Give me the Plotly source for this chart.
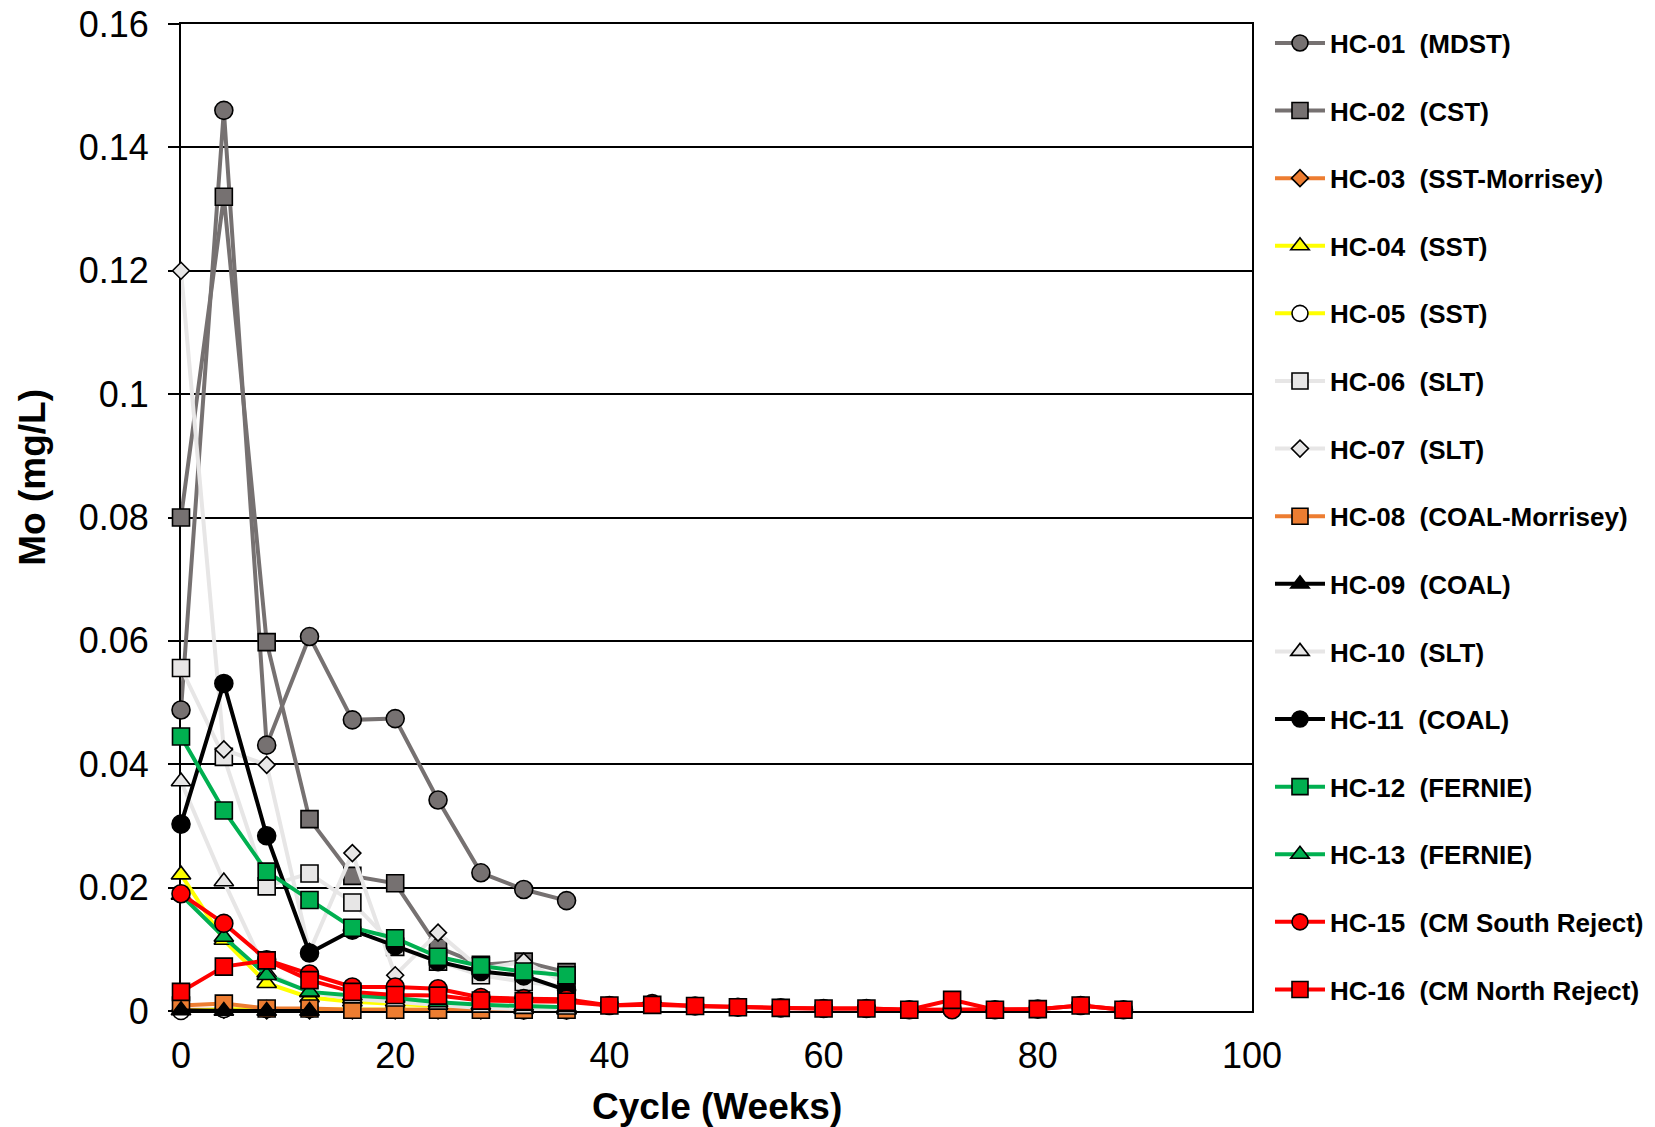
import plotly.graph_objects as go

# ---------------- data ----------------
weeks = [0, 4, 8, 12, 16, 20, 24, 28, 32, 36]
weeks_hc09 = [0, 4, 8, 12]
weeks_long = [0, 4, 8, 12, 16, 20, 24, 28, 32, 36, 40, 44, 48, 52, 56, 60, 64, 68, 72, 76, 80, 84, 88]

hc01 = [0.0488, 0.1460, 0.0431, 0.0607, 0.0472, 0.0474, 0.0342, 0.0224, 0.0197, 0.0179]
hc02 = [0.0800, 0.1320, 0.0598, 0.0311, 0.0219, 0.0207, 0.0103, 0.0075, 0.0080, 0.0063]
hc03 = [0.0002, 0.0002, 0.0001, 0.0001, 0.0001, 0.0001, 0.0001, 0.0001, 0.0001, 0.0001]
hc04 = [0.0221, 0.0115, 0.0045, 0.0022, 0.0015, 0.0011, 0.0008, 0.0006, 0.0004, 0.0003]
hc05 = [0.0000, 0.0003, 0.0003, 0.0003, 0.0002, 0.0002, 0.0002, 0.0002, 0.0001, 0.0001]
hc06 = [0.0556, 0.0412, 0.0202, 0.0223, 0.0176, 0.0104, 0.0080, 0.0058, 0.0047, 0.0040]
hc07 = [0.1200, 0.0424, 0.0399, 0.0096, 0.0256, 0.0058, 0.0127, 0.0068, 0.0080, 0.0045]
hc08 = [0.0009, 0.0012, 0.0004, 0.0004, 0.0002, 0.0002, 0.0002, 0.0002, 0.0002, 0.0002]
hc09 = [0.0001, 0.0000, 0.0000, 0.0000]
hc10 = [0.0372, 0.0210, 0.0062, 0.0030, 0.0020, 0.0015, 0.0010, 0.0005, 0.0003, 0.0002]
hc11 = [0.0303, 0.0531, 0.0284, 0.0094, 0.0131, 0.0106, 0.0080, 0.0064, 0.0057, 0.0034]
hc12 = [0.0445, 0.0325, 0.0226, 0.0180, 0.0135, 0.0118, 0.0088, 0.0073, 0.0064, 0.0058]
hc13 = [0.0188, 0.0120, 0.0058, 0.0031, 0.0025, 0.0021, 0.0014, 0.0010, 0.0008, 0.0006]
hc15 = [0.0190, 0.0142, 0.0083, 0.0060, 0.0039, 0.0039, 0.0036, 0.0022, 0.0020, 0.0019,
        0.0009, 0.0012, 0.0008, 0.0006, 0.0005, 0.0004, 0.0004, 0.0002, 0.0002, 0.0002, 0.0003, 0.0009, 0.0002]
hc16 = [0.0031, 0.0072, 0.0082, 0.0050, 0.0031, 0.0026, 0.0025, 0.0017, 0.0016, 0.0015,
        0.0009, 0.0010, 0.0008, 0.0006, 0.0005, 0.0004, 0.0004, 0.0002, 0.0018, 0.0002, 0.0003, 0.0009, 0.0002]

names = ["HC-01\u00a0\u00a0(MDST)", "HC-02\u00a0\u00a0(CST)", "HC-03\u00a0\u00a0(SST-Morrisey)",
         "HC-04\u00a0\u00a0(SST)", "HC-05\u00a0\u00a0(SST)", "HC-06\u00a0\u00a0(SLT)", "HC-07\u00a0\u00a0(SLT)",
         "HC-08\u00a0\u00a0(COAL-Morrisey)", "HC-09\u00a0\u00a0(COAL)", "HC-10\u00a0\u00a0(SLT)",
         "HC-11\u00a0\u00a0(COAL)", "HC-12\u00a0\u00a0(FERNIE)", "HC-13\u00a0\u00a0(FERNIE)",
         "HC-15\u00a0\u00a0(CM South Reject)", "HC-16\u00a0\u00a0(CM North Reject)"]

y_tick_vals = [0, 0.02, 0.04, 0.06, 0.08, 0.1, 0.12, 0.14, 0.16]
y_tick_text = ["0", "0.02", "0.04", "0.06", "0.08", "0.1", "0.12", "0.14", "0.16"]
x_tick_vals = [0, 20, 40, 60, 80, 100]
x_tick_text = ["0", "20", "40", "60", "80", "100"]

# ---------------- styles ----------------
GREY = "#767171"
LIGHT = "#E7E6E6"
ORANGE = "#ED7D31"
YELLOW = "#FFFF00"
GREEN = "#00B050"
RED = "#FF0000"
BLACK = "#000000"

styles = [
    (weeks, hc01, GREY, "circle", GREY, 18),
    (weeks, hc02, GREY, "square", GREY, 17),
    (weeks, hc03, ORANGE, "diamond", ORANGE, 13),
    (weeks, hc04, YELLOW, "triangle-up", YELLOW, 17),
    (weeks, hc05, YELLOW, "circle", "#FFFFFF", 17),
    (weeks, hc06, LIGHT, "square", LIGHT, 17),
    (weeks, hc07, LIGHT, "diamond", LIGHT, 13),
    (weeks, hc08, ORANGE, "square", ORANGE, 17),
    (weeks_hc09, hc09, BLACK, "triangle-up", BLACK, 17),
    (weeks, hc10, LIGHT, "triangle-up", LIGHT, 17),
    (weeks, hc11, BLACK, "circle", BLACK, 18),
    (weeks, hc12, GREEN, "square", GREEN, 17),
    (weeks, hc13, GREEN, "triangle-up", GREEN, 17),
    (weeks_long, hc15, RED, "circle", RED, 18),
    (weeks_long, hc16, RED, "square", RED, 17),
]

FONT = "Arial, 'Liberation Sans', sans-serif"
N_FIRST = 7  # entries in the first legend block

fig = go.Figure()
for i, (name, (xs, ys, lc, sym, fc, sz)) in enumerate(zip(names, styles)):
    fig.add_trace(go.Scatter(
        x=xs, y=ys, name=name, mode="lines+markers",
        legendgroup="g%d" % i,
        legend="legend" if i < N_FIRST else "legend2",
        line=dict(color=lc, width=4),
        marker=dict(symbol=sym, color=fc, size=sz, line=dict(color=BLACK, width=1.6)),
        cliponaxis=False,
    ))

legend_common = dict(
    xanchor="left", yanchor="top",
    font=dict(family=FONT, size=26, color="black", weight="bold"),
    tracegroupgap=30.8, bgcolor="rgba(0,0,0,0)", itemwidth=50,
)

fig.update_layout(
    width=1655, height=1127,
    margin=dict(l=181, r=403, t=24, b=116, autoexpand=False),
    paper_bgcolor="white", plot_bgcolor="white",
    font=dict(family=FONT, color="black"),
    showlegend=True,
    legend=dict(x=1.0168, y=1.0045, **legend_common),
    legend2=dict(x=1.0168, y=0.525, **legend_common),
    xaxis=dict(
        range=[0, 100], tickvals=x_tick_vals, ticktext=x_tick_text,
        showgrid=False, zeroline=False, showline=True, linecolor="black", linewidth=2,
        mirror=True, ticks="", ticklabelstandoff=12,
        tickfont=dict(size=36, family=FONT, color="black"),
        layer="below traces",
    ),
    yaxis=dict(
        range=[0, 0.16], tickvals=y_tick_vals, ticktext=y_tick_text,
        showgrid=True, gridcolor="black", gridwidth=1.5, zeroline=False,
        showline=True, linecolor="black", linewidth=2, mirror=True,
        ticks="outside", ticklen=11, tickcolor="black", tickwidth=1.5,
        ticklabelstandoff=12,
        tickfont=dict(size=36, family=FONT, color="black"),
        layer="below traces",
    ),
    annotations=[
        dict(text="<b>Cycle (Weeks)</b>", xref="paper", yref="paper", x=0.5, y=-0.0963,
             xanchor="center", yanchor="middle", showarrow=False,
             font=dict(size=37, family=FONT, color="black")),
        dict(text="<b>Mo (mg/L)</b>", xref="paper", yref="paper", x=-0.1394, y=0.541,
             xanchor="center", yanchor="middle", showarrow=False, textangle=-90,
             font=dict(size=37, family=FONT, color="black")),
    ],
)

fig.write_html("out.html", config={"displayModeBar": False},
               post_script="document.body.style.margin='0';")
